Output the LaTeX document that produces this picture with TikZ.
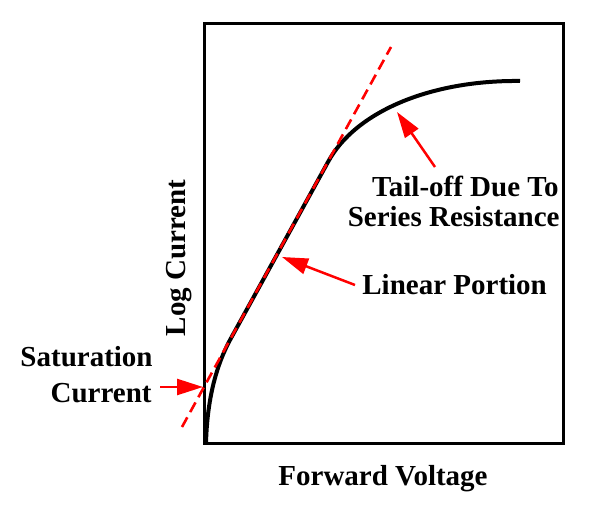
\documentclass[tikz,border=0pt]{standalone}
\usepackage{fontspec}
\setmainfont{Liberation Serif}
\usetikzlibrary{arrows.meta}
\begin{document}
\begin{tikzpicture}[x=0.5pt,y=-0.5pt,
    lbl/.style={inner sep=0pt,font=\fontsize{14.5}{17}\selectfont\bfseries},
    ptr/.style={red,line width=1.25pt,-{Triangle[length=13pt,width=8pt]}}]
% diode I-V sketch, log scale, coordinates in pixels of the original figure
  \useasboundingbox (0,0) rectangle (600,508);
  \draw[line width=1.5pt] (204,24) rectangle (563,443);
  \draw[line width=2pt] (206,444) .. controls (207,400) and (216,366) .. (230,340)
    -- (328,162) .. controls (355,112) and (430,80) .. (520,81);
  \draw[red,line width=1.3pt,dash pattern=on 5.5pt off 3pt] (182,427) -- (391,47);
  \node[lbl,anchor=base] (xlab) at (383,485) {Forward Voltage};
  \node[lbl,anchor=base,rotate=90] (ylab) at (185,258) {Log Current};
  \node[lbl,anchor=base east] (sat1) at (153,366) {Saturation};
  \node[lbl,anchor=base east] (sat2) at (152,402) {Current};
  \node[lbl,anchor=base west] (lin) at (362,294) {Linear Portion};
  \node[lbl,anchor=base east] (tail1) at (559,197) {Tail-off Due To};
  \node[lbl,anchor=base east] (tail2) at (560,227) {Series Resistance};
  \coordinate (satA) at (160,387);
  \coordinate (satB) at (203,387);
  \coordinate (linA) at (355,285);
  \coordinate (linB) at (282,257);
  \coordinate (tailA) at (435,167);
  \coordinate (tailB) at (397,112);
  \draw[ptr] (satA) -- (satB);
  \draw[ptr] (linA) -- (linB);
  \draw[ptr] (tailA) -- (tailB);
\end{tikzpicture}
\end{document}
